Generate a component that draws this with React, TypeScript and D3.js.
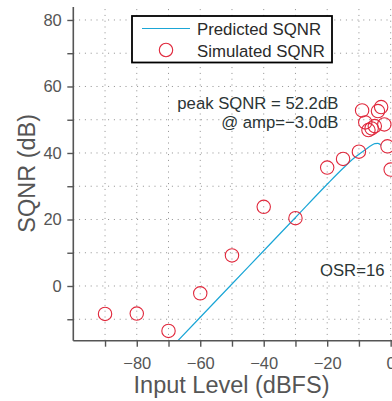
import * as d3 from 'd3';
import { useEffect, useRef } from 'react';

// simulated SQNR (circles)
const simLevels = [-90, -80, -70, -60, -50, -40, -30, -20, -15, -10, -9, -8, -7, -6, -5, -4, -3, -2, -1, 0];
const simSqnr = [-8.4, -8.3, -13.5, -2.2, 9.2, 23.8, 20.4, 35.6, 38.2, 40.4, 52.8, 49.2, 46.9, 47.4, 48.1, 52.6, 53.8, 48.6, 42.0, 35.0];

// predicted SQNR (line)
const predLevels = [-70, -60, -50, -40, -30, -20, -15, -12, -10, -8, -6, -5, -4, -3];
const predSqnr = [-19.4, -9.4, 0.6, 10.6, 20.6, 30.6, 35.4, 38.1, 39.6, 41.0, 42.3, 42.8, 42.9, 42.3];

const xTicks = [-90, -80, -70, -60, -50, -40, -30, -20, -10, 0];
const xLabels = [-80, -60, -40, -20, 0];
const yTicks = [-10, 0, 10, 20, 30, 40, 50, 60, 70, 80];
const yLabels = [0, 20, 40, 60, 80];

const W = 392;
const H = 401;
const FONT = "'Liberation Sans', Arial, sans-serif";
const AXIS = '#555555';
const LINE = '#1ba6d6';
const CIRCLE = '#e0283c';

const fmt = (d: number) => (d < 0 ? `\u2212${-d}` : `${d}`);

export default function App() {
  const svgRef = useRef<SVGSVGElement>(null);

  useEffect(() => {
    if (!svgRef.current) return;
    const svg = d3.select(svgRef.current);
    svg.selectAll('*').remove();

    const left = 73.3;
    const bottom = 340.7;
    const top = 7;
    const x = d3.scaleLinear().domain([-100, 10]).range([left, 422.4]);
    const y = d3.scaleLinear().domain([-16.45, 83.9]).range([bottom, top]);

    svg
      .append('defs')
      .append('clipPath')
      .attr('id', 'plot')
      .append('rect')
      .attr('x', left)
      .attr('y', top)
      .attr('width', 422.4 - left)
      .attr('height', bottom - top);

    // Dotted grid
    const grid = svg.append('g').attr('stroke', '#8f8f8f').attr('stroke-width', 1).attr('stroke-dasharray', '1,4.8');
    grid
      .selectAll('line.v')
      .data(xTicks)
      .enter()
      .append('line')
      .attr('x1', (d) => x(d))
      .attr('x2', (d) => x(d))
      .attr('y1', bottom)
      .attr('y2', top);
    grid
      .selectAll('line.h')
      .data(yTicks)
      .enter()
      .append('line')
      .attr('x1', left)
      .attr('x2', W)
      .attr('y1', (d) => y(d))
      .attr('y2', (d) => y(d));

    // Predicted line
    const line = d3
      .line<number>()
      .x((_, i) => x(predLevels[i]))
      .y((d) => y(d))
      .curve(d3.curveMonotoneX);
    svg
      .append('path')
      .datum(predSqnr)
      .attr('clip-path', 'url(#plot)')
      .attr('d', line)
      .attr('fill', 'none')
      .attr('stroke', LINE)
      .attr('stroke-width', 1.2);

    // Simulated circles
    svg
      .append('g')
      .selectAll('circle')
      .data(simSqnr)
      .enter()
      .append('circle')
      .attr('cx', (_, i) => x(simLevels[i]))
      .attr('cy', (d) => y(d))
      .attr('r', 6.7)
      .attr('fill', 'none')
      .attr('stroke', CIRCLE)
      .attr('stroke-width', 1.1);

    // Axes
    const xAxis = svg
      .append('g')
      .attr('transform', `translate(0,${bottom})`)
      .call(d3.axisBottom(x).tickValues(xTicks).tickSize(6).tickFormat((d) => (xLabels.includes(+d) ? fmt(+d) : '')));
    const yAxis = svg
      .append('g')
      .attr('transform', `translate(${left},0)`)
      .call(d3.axisLeft(y).tickValues(yTicks).tickSize(6).tickFormat((d) => (yLabels.includes(+d) ? fmt(+d) : '')));

    xAxis.select('.domain').attr('d', `M${left},0H${W}`);
    yAxis.select('.domain').attr('d', `M0,${bottom}V${top}`);
    [xAxis, yAxis].forEach((a) => {
      a.select('.domain').attr('stroke', AXIS).attr('stroke-width', 1.6);
      a.selectAll('.tick line').attr('stroke', AXIS).attr('stroke-width', 1.4);
      a.selectAll('text').attr('fill', AXIS).style('font-size', '16.5px').style('font-family', FONT);
    });
    xAxis.selectAll('text').attr('y', 28).attr('dy', '0');
    yAxis.selectAll('text').attr('x', -11.5);

    // Axis titles
    svg
      .append('text')
      .attr('x', 231.5)
      .attr('y', 393)
      .attr('text-anchor', 'middle')
      .attr('fill', AXIS)
      .style('font-family', FONT)
      .style('font-size', '23.5px')
      .text('Input Level (dBFS)');
    svg
      .append('text')
      .attr('transform', `translate(35,173.3) rotate(-90)`)
      .attr('text-anchor', 'middle')
      .attr('fill', AXIS)
      .style('font-family', FONT)
      .style('font-size', '23.5px')
      .text('SQNR (dB)');

    // Annotations
    const note = svg.append('g').attr('fill', '#2b3535').style('font-family', FONT).style('font-size', '16.7px');
    note.append('text').attr('x', 338.3).attr('y', 108.7).attr('text-anchor', 'end').text('peak SQNR = 52.2dB');
    note.append('text').attr('x', 338.3).attr('y', 128).attr('text-anchor', 'end').text('@ amp=\u22123.0dB');
    note.append('text').attr('x', 320).attr('y', 276).text('OSR=16');

    // Legend
    const lg = svg.append('g');
    lg.append('rect')
      .attr('x', 132)
      .attr('y', 16)
      .attr('width', 200)
      .attr('height', 46.5)
      .attr('fill', 'white')
      .attr('stroke', 'black')
      .attr('stroke-width', 1.8);
    lg.append('line').attr('x1', 142).attr('x2', 190).attr('y1', 28.5).attr('y2', 28.5).attr('stroke', LINE).attr('stroke-width', 1.2);
    lg.append('circle').attr('cx', 166).attr('cy', 50).attr('r', 6.7).attr('fill', 'none').attr('stroke', CIRCLE).attr('stroke-width', 1.1);
    const lt = lg.append('g').attr('fill', '#2a2a2a').style('font-family', FONT).style('font-size', '16.8px');
    lt.append('text').attr('x', 197).attr('y', 35.3).text('Predicted SQNR');
    lt.append('text').attr('x', 197).attr('y', 56.5).text('Simulated SQNR');
  }, []);

  return (
    <svg
      ref={svgRef}
      width={W}
      height={H}
      style={{ position: 'absolute', left: 0, top: 0, background: 'white' }}
    ></svg>
  );
}
